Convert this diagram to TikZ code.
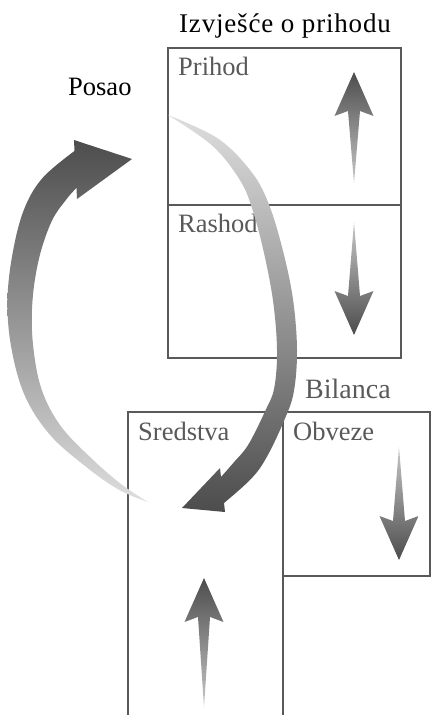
\documentclass[tikz,border=0pt]{standalone}
\usepackage{fontspec}
\setmainfont{Liberation Serif}
\newfontfamily\headfont[LetterSpace=3]{Liberation Serif}
\definecolor{inkgray}{gray}{0.35}
\definecolor{arcdark}{gray}{0.3}
\definecolor{arcmid}{gray}{0.55}
\definecolor{arclight}{gray}{0.87}
\definecolor{tailgray}{gray}{0.78}
\tikzset{
  boxline/.style={draw=inkgray, line width=1.3pt},
  headline/.style={inner sep=0pt, font=\headfont\fontsize{27}{30}\selectfont},
  boxlabel/.style={inner sep=0pt, anchor=base west, text=inkgray,
    font=\fontsize{26.5}{30}\selectfont},
}

\begin{document}
\begin{tikzpicture}[x=1pt, y=-1pt]
    \useasboundingbox (0,0) rectangle (432,715);
    % Income statement box
    \draw[boxline] (168,48) rectangle (401,358);
    \draw[boxline] (168,205) -- (401,205);
    % Balance sheet boxes
    \draw[boxline] (128,715) -- (128,412) -- (430,412) -- (430,576) -- (283,576);
    \draw[boxline] (283,412) -- (283,715);
    % Titles
    \node[headline, anchor=base] (izvjesce) at (285,32) {Izvješće o prihodu};
    \node[headline, anchor=base west, font=\fontsize{26.5}{30}\selectfont] (posao) at (68,95) {Posao};
    \node[boxlabel, font=\fontsize{28}{32}\selectfont] (bilanca) at (305,398) {Bilanca};
    % Box labels
    \node[boxlabel] (prihod) at (178,75) {Prihod};
    \node[boxlabel] (rashod) at (178,232) {Rashod};
    \node[boxlabel] (sredstva) at (138,440) {Sredstva};
    \node[boxlabel] (obveze) at (293,440) {Obveze};
    % Small up/down arrows
    \foreach \ax/\tip/\tail/\ctop/\cbot in {354/72/183/arcdark/tailgray,
        354/335/222/tailgray/arcdark, 399/560/447/tailgray/arcdark,
        204/578/707/arcdark/tailgray}{
      \pgfmathsetmacro\dir{sign(\tail-\tip)}
      \shade[top color=\ctop, bottom color=\cbot]
        (\ax,\tip) -- ({\ax+19.5},{\tip+44*\dir}) -- ({\ax+6},{\tip+39*\dir})
        -- (\ax,\tail) -- ({\ax-6},{\tip+39*\dir}) -- ({\ax-19.5},{\tip+44*\dir}) -- cycle;
    }
    % Arc from the balance sheet up to the business event
    \shade[top color=arcdark, middle color=arcmid, bottom color=arclight]
      plot[smooth, tension=0.6] coordinates {(148,502) (118.4,489.5) (84.7,465.8)
        (49.5,434.3) (24.6,395.2) (11.1,346.5) (7.5,299.5) (12.8,252.2)
        (24.2,209) (42.7,177.8) (74.5,151)}
      -- (74,140) -- (132,159) -- (77,199) -- (76.5,188)
      -- plot[smooth, tension=0.6] coordinates {(76.5,188) (67.3,198.2) (51.8,221)
        (39.2,257.8) (32.5,300.5) (32.9,343.5) (41.4,388.8) (60.5,425.7)
        (91.3,458.2) (121.6,484.5) (148,502)}
      -- cycle;
    % Arc from the income statement down to the assets
    \shade[top color=arclight, middle color=arcmid, bottom color=arcdark]
      plot[smooth, tension=0.6] coordinates {(168,115) (217.8,138.4) (250.7,170.9)
        (268,202) (282.2,247.8) (292.9,298.6) (297,350) (293.8,391.8)
        (284.7,419.2) (267.6,455.5) (251.9,478) (224,503)}
      -- (225,512) -- (182,508) -- (220,468) -- (221,477)
      -- plot[smooth, tension=0.6] coordinates {(221,477) (234.1,462) (248.4,444.5)
        (265.3,410.8) (274.2,388.2) (277,350) (273.1,301.4) (263.8,252.2)
        (252,208) (239.3,179.1) (212.2,145.6) (168,115)}
      -- cycle;
\end{tikzpicture}
\end{document}
